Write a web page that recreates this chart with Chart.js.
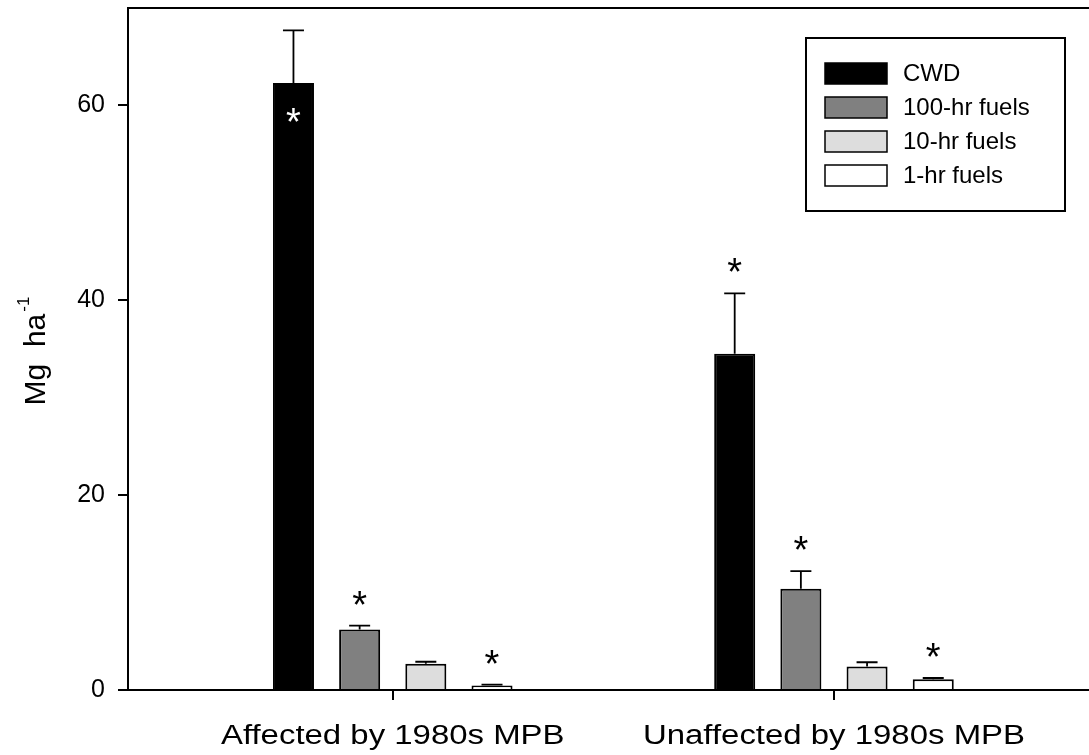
<!DOCTYPE html>
<html>
<head>
<meta charset="utf-8">
<script src="https://cdn.jsdelivr.net/npm/chart.js@4/dist/chart.umd.min.js"></script>
<style>
  html, body { margin: 0; padding: 0; background: #ffffff; }
  #wrap { width: 1089px; height: 755px; }
</style>
</head>
<body>
<div id="wrap"><canvas id="c" width="1089" height="755"></canvas></div>
<script>
// Fuel loading (Mg/ha) by stand type
const groups = ['Affected by 1980s MPB', 'Unaffected by 1980s MPB'];
const groupPos = [1, 2];
const fuelClasses = ['CWD', '100-hr fuels', '10-hr fuels', '1-hr fuels'];

const cwd   = [62.3, 34.5];
const hr100 = [6.2, 10.4];
const hr10  = [2.7, 2.4];
const hr1   = [0.45, 1.1];

// standard errors (upper bars only)
const cwdErr   = [5.4, 6.2];
const hr100Err = [0.4, 1.8];
const hr10Err  = [0.2, 0.45];
const hr1Err   = [0.1, 0.13];

// significant differences between stand types
const cwdSig   = [true, true];
const hr100Sig = [true, true];
const hr10Sig  = [false, false];
const hr1Sig   = [true, true];

const yTicks = [0, 20, 40, 60];

const values = [cwd, hr100, hr10, hr1];
const errors = [cwdErr, hr100Err, hr10Err, hr1Err];
const sigs   = [cwdSig, hr100Sig, hr10Sig, hr1Sig];
const fills  = ['#000000', '#808080', '#dddddd', '#ffffff'];

const FONT = '"Liberation Sans", Arial, Helvetica, sans-serif';

const datasets = fuelClasses.map((name, i) => ({
  label: name,
  data: groupPos.map((x, j) => ({ x: x, y: values[i][j] })),
  backgroundColor: fills[i],
  borderColor: '#000000',
  borderWidth: 2,
  categoryPercentage: 0.6,
  barPercentage: 0.62,
  errs: errors[i],
  sig: sigs[i]
}));

const decorations = {
  id: 'decorations',
  afterDatasetsDraw(chart) {
    const ctx = chart.ctx;
    const ys = chart.scales.y;
    const area = chart.chartArea;

    // error bars
    ctx.save();
    ctx.strokeStyle = '#000';
    ctx.lineWidth = 1.8;
    chart.data.datasets.forEach((ds, i) => {
      const meta = chart.getDatasetMeta(i);
      meta.data.forEach((el, j) => {
        const top = ys.getPixelForValue(ds.data[j].y + ds.errs[j]);
        ctx.beginPath();
        ctx.moveTo(el.x, el.y);
        ctx.lineTo(el.x, top);
        ctx.moveTo(el.x - 10.5, top);
        ctx.lineTo(el.x + 10.5, top);
        ctx.stroke();
      });
    });
    ctx.restore();

    // significance stars
    ctx.save();
    ctx.font = '38px ' + FONT;
    ctx.textAlign = 'center';
    ctx.textBaseline = 'alphabetic';
    const m = ctx.measureText('*');
    const shift = (m.actualBoundingBoxAscent - m.actualBoundingBoxDescent) / 2;
    chart.data.datasets.forEach((ds, i) => {
      const meta = chart.getDatasetMeta(i);
      meta.data.forEach((el, j) => {
        if (!ds.sig[j]) return;
        const top = ys.getPixelForValue(ds.data[j].y + ds.errs[j]);
        let cy = top - 28;
        ctx.fillStyle = '#000';
        if (cy - 8 < area.top) {
          // no room above the whisker: place inside the bar
          cy = el.y + 32;
          ctx.fillStyle = '#fff';
        }
        ctx.fillText('*', el.x, cy + shift);
      });
    });
    ctx.restore();
  },
  afterDraw(chart) {
    const ctx = chart.ctx;
    const area = chart.chartArea;
    const xs = chart.scales.x;

    // top frame line
    ctx.save();
    ctx.strokeStyle = '#000';
    ctx.lineWidth = 2;
    ctx.beginPath();
    ctx.moveTo(area.left - 1, area.top);
    ctx.lineTo(area.right, area.top);
    ctx.stroke();
    ctx.restore();

    // category labels
    ctx.save();
    ctx.fillStyle = '#000';
    ctx.font = '27px ' + FONT;
    ctx.textAlign = 'center';
    ctx.textBaseline = 'alphabetic';
    groups.forEach((g, j) => {
      const cx = xs.getPixelForValue(groupPos[j]);
      ctx.save();
      ctx.translate(cx, 744);
      ctx.scale(1.22, 1);
      ctx.fillText(g, 0, 0);
      ctx.restore();
    });
    ctx.restore();

    // y axis title: Mg ha^-1
    ctx.save();
    ctx.fillStyle = '#000';
    ctx.translate(45, 351);
    ctx.rotate(-Math.PI / 2);
    ctx.textBaseline = 'alphabetic';
    ctx.textAlign = 'left';
    ctx.font = '30px ' + FONT;
    const mainTxt = 'Mg  ha';
    const wMain = ctx.measureText(mainTxt).width;
    ctx.font = '17px ' + FONT;
    const supTxt = '-1';
    const wSup = ctx.measureText(supTxt).width;
    const x0 = -(wMain + wSup + 2) / 2;
    ctx.font = '30px ' + FONT;
    ctx.fillText(mainTxt, x0, 0);
    ctx.font = '17px ' + FONT;
    ctx.fillText(supTxt, x0 + wMain + 2, -16);
    ctx.restore();

    // legend
    ctx.save();
    ctx.strokeStyle = '#000';
    ctx.lineWidth = 2;
    ctx.fillStyle = '#fff';
    ctx.fillRect(806, 38, 259, 173);
    ctx.strokeRect(806, 38, 259, 173);
    ctx.lineWidth = 1.5;
    ctx.font = '24px ' + FONT;
    ctx.textBaseline = 'middle';
    ctx.textAlign = 'left';
    fuelClasses.forEach((name, i) => {
      const cy = 73.5 + i * 34;
      ctx.fillStyle = fills[i];
      ctx.fillRect(825, cy - 10.5, 62, 21);
      ctx.strokeRect(825, cy - 10.5, 62, 21);
      ctx.fillStyle = '#000';
      ctx.fillText(name, 903, cy + 1);
    });
    ctx.restore();
  }
};

new Chart(document.getElementById('c'), {
  type: 'bar',
  data: { datasets: datasets },
  options: {
    responsive: false,
    animation: false,
    layout: { padding: { top: 8, left: 0, right: 0, bottom: 0 } },
    plugins: { legend: { display: false }, tooltip: { enabled: false } },
    scales: {
      x: {
        type: 'linear',
        offset: false,
        min: 0.4,
        max: 2.578,
        afterBuildTicks: (axis) => { axis.ticks = groupPos.map(v => ({ value: v })); },
        afterFit: (scale) => {
          scale.height = 65;
          scale.paddingLeft = 0; scale.paddingRight = 0;
          scale.paddingTop = 0; scale.paddingBottom = 0;
        },
        grid: { offset: false, drawOnChartArea: false, drawTicks: true, tickLength: 10, color: '#000', lineWidth: 2 },
        border: { display: true, color: '#000', width: 2 },
        ticks: { callback: () => '', font: { size: 1 } }
      },
      y: {
        type: 'linear',
        min: 0,
        max: 70,
        afterBuildTicks: (axis) => { axis.ticks = yTicks.map(v => ({ value: v })); },
        afterFit: (scale) => {
          scale.width = 128;
          scale.paddingTop = 0; scale.paddingBottom = 0;
        },
        grid: { drawOnChartArea: false, drawTicks: true, tickLength: 10, color: '#000', lineWidth: 2 },
        border: { display: true, color: '#000', width: 2 },
        ticks: { padding: 13, color: '#000', font: { family: FONT, size: 25 } }
      }
    }
  },
  plugins: [decorations]
});
</script>
</body>
</html>
